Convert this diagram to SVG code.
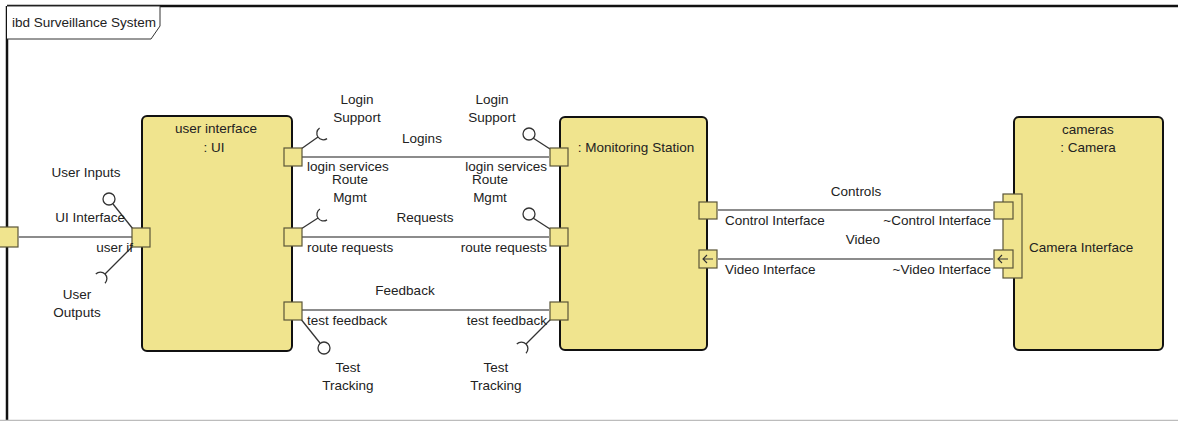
<svg xmlns="http://www.w3.org/2000/svg" width="1178" height="421" viewBox="0 0 1178 421">
  <style>
    text { font-family: "Liberation Sans", Arial, sans-serif; font-size: 13.5px; fill: #222; }
    .mid { text-anchor: middle; }
    .end { text-anchor: end; }
    .block { fill: #F0E48E; stroke: #111; stroke-width: 2; }
    .port { fill: #F0E48E; stroke: #5a5538; stroke-width: 1.2; }
    .conn { stroke: #8c8c8c; stroke-width: 2; fill: none; }
    .iface { stroke: #333; stroke-width: 1.3; fill: none; }
    .lolli { stroke: #333; stroke-width: 1.3; fill: #fff; }
    .arrow { stroke: #333; stroke-width: 1.1; fill: none; }
  </style>
  <defs>
    <!-- required-interface cup, opening along +x from the origin -->
    <path id="socket" d="M6.5,-6.5 A6.5,6.5 0 0 0 0,0 A6.5,6.5 0 0 0 6.5,6.5" class="iface"/>
  </defs>

  <rect width="1178" height="421" fill="#fff"/>

  <!-- diagram frame -->
  <g id="frame">
    <path d="M7,6 H1178 M7,6 V421" stroke="#111" stroke-width="2.5" fill="none"/>
    <line x1="0" y1="420.5" x2="1178" y2="420.5" stroke="#bcbcbc" stroke-width="1.5"/>
    <path d="M7,6 H160 V26 L151,39 H7" fill="#fff" stroke="#333" stroke-width="1"/>
    <text x="12" y="27">ibd Surveillance System</text>
    <rect x="-3" y="227" width="21" height="20" class="port"/>
  </g>

  <!-- connectors -->
  <g id="connectors">
    <line x1="18" y1="237" x2="132" y2="237" class="conn"/>
    <line x1="302" y1="157" x2="549" y2="157" class="conn"/>
    <line x1="302" y1="237" x2="549" y2="237" class="conn"/>
    <line x1="302" y1="310" x2="549" y2="310" class="conn"/>
    <line x1="718" y1="210" x2="993" y2="210" class="conn"/>
    <line x1="718" y1="259" x2="993" y2="259" class="conn"/>
    <text x="422" y="143" class="mid">Logins</text>
    <text x="425" y="222" class="mid">Requests</text>
    <text x="405" y="295" class="mid">Feedback</text>
    <text x="856" y="196" class="mid">Controls</text>
    <text x="863" y="244" class="mid">Video</text>
  </g>

  <!-- user interface : UI -->
  <g id="ui">
    <rect x="142" y="116" width="150" height="235" rx="5" class="block"/>
    <text x="216" y="133" class="mid">user interface</text>
    <text x="214" y="152" class="mid">: UI</text>

    <!-- left port: user if -->
    <line x1="133" y1="229" x2="113" y2="204" class="iface"/>
    <circle cx="109" cy="199" r="6" class="lolli"/>
    <line x1="133" y1="246" x2="105" y2="274" class="iface"/>
    <use href="#socket" transform="translate(105,274) rotate(135)"/>
    <rect x="132" y="228" width="18" height="19" class="port"/>
    <text x="86" y="177" class="mid">User Inputs</text>
    <text x="125" y="222" class="end">UI Interface</text>
    <text x="133" y="252" class="end">user if</text>
    <text x="77" y="299" class="mid">User</text>
    <text x="77" y="317" class="mid">Outputs</text>

    <!-- login services -->
    <line x1="301" y1="149" x2="318" y2="137" class="iface"/>
    <use href="#socket" transform="translate(318,137) rotate(-35)"/>
    <rect x="284" y="148" width="18" height="18" class="port"/>
    <text x="357" y="104" class="mid">Login</text>
    <text x="357" y="122" class="mid">Support</text>
    <text x="307" y="171">login services</text>

    <!-- route requests -->
    <line x1="301" y1="229" x2="318" y2="218" class="iface"/>
    <use href="#socket" transform="translate(318,218) rotate(-33)"/>
    <rect x="284" y="228" width="18" height="18" class="port"/>
    <text x="350" y="184" class="mid">Route</text>
    <text x="350" y="202" class="mid">Mgmt</text>
    <text x="307" y="252">route requests</text>

    <!-- test feedback -->
    <line x1="300" y1="318" x2="320" y2="343" class="iface"/>
    <circle cx="324" cy="348" r="6" class="lolli"/>
    <rect x="284" y="302" width="18" height="18" class="port"/>
    <text x="307" y="325">test feedback</text>
    <text x="348" y="372" class="mid">Test</text>
    <text x="348" y="390" class="mid">Tracking</text>
  </g>

  <!-- : Monitoring Station -->
  <g id="monitoring-station">
    <rect x="560" y="117" width="147" height="233" rx="5" class="block"/>
    <text x="636" y="152" class="mid">: Monitoring Station</text>

    <!-- login services -->
    <line x1="550" y1="149" x2="533" y2="138" class="iface"/>
    <circle cx="529" cy="134" r="6" class="lolli"/>
    <rect x="550" y="148" width="18" height="18" class="port"/>
    <text x="492" y="104" class="mid">Login</text>
    <text x="492" y="122" class="mid">Support</text>
    <text x="547" y="171" class="end">login services</text>

    <!-- route requests -->
    <line x1="550" y1="229" x2="533" y2="218" class="iface"/>
    <circle cx="529" cy="214" r="6" class="lolli"/>
    <rect x="550" y="228" width="18" height="18" class="port"/>
    <text x="490" y="184" class="mid">Route</text>
    <text x="490" y="202" class="mid">Mgmt</text>
    <text x="547" y="252" class="end">route requests</text>

    <!-- test feedback -->
    <line x1="551" y1="319" x2="526" y2="344" class="iface"/>
    <use href="#socket" transform="translate(526,344) rotate(135)"/>
    <rect x="550" y="302" width="18" height="18" class="port"/>
    <text x="547" y="325" class="end">test feedback</text>
    <text x="496" y="372" class="mid">Test</text>
    <text x="496" y="390" class="mid">Tracking</text>

    <!-- control / video -->
    <rect x="699" y="202" width="18" height="17" class="port"/>
    <text x="725" y="225">Control Interface</text>
    <rect x="699" y="250" width="18" height="18" class="port"/>
    <path d="M703,259 H713 M707,255 L703,259 L707,263" class="arrow"/>
    <text x="725" y="274">Video Interface</text>
  </g>

  <!-- cameras : Camera -->
  <g id="cameras">
    <rect x="1014" y="117" width="149" height="233" rx="5" class="block"/>
    <text x="1088" y="134" class="mid">cameras</text>
    <text x="1088" y="152" class="mid">: Camera</text>
    <rect x="1003" y="194" width="19" height="84" class="port"/>
    <text x="1029" y="252">Camera Interface</text>
    <rect x="994" y="202" width="19" height="17" class="port"/>
    <text x="991" y="225" class="end">~Control Interface</text>
    <rect x="994" y="250" width="19" height="18" class="port"/>
    <path d="M998,259 H1008 M1002,255 L998,259 L1002,263" class="arrow"/>
    <text x="991" y="274" class="end">~Video Interface</text>
  </g>
</svg>
